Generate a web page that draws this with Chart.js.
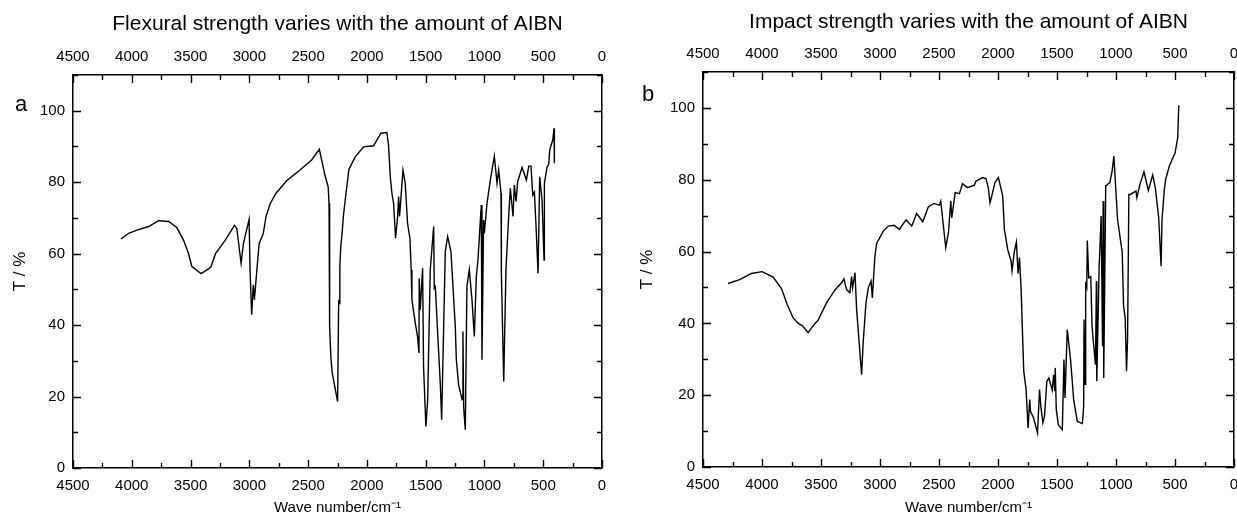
<!DOCTYPE html>
<html>
<head>
<meta charset="utf-8">
<script src="https://cdn.jsdelivr.net/npm/chart.js@4.4.1/dist/chart.umd.min.js"></script>
<style>
  html, body { margin: 0; padding: 0; background: #fff; overflow: hidden; }
  body { width: 1237px; height: 524px; position: relative; }
  canvas { position: absolute; top: 0; }
  #left { left: 0; }
  #right { left: 620px; }
</style>
</head>
<body>
<canvas id="left" width="620" height="524"></canvas>
<canvas id="right" width="640" height="524"></canvas>
<script>
"use strict";

// data
const leftWave = [4092, 4027, 3956, 3857, 3772, 3687, 3617, 3560, 3518, 3489, 3410, 3328, 3286, 3206, 3127, 3107, 3070, 3050, 3002, 2994,
  2980, 2966, 2957, 2917, 2881, 2858, 2824, 2773, 2683, 2569, 2470, 2405, 2357, 2329, 2322, 2319, 2315, 2312, 2305, 2295,
  2249, 2240, 2235, 2230, 2222, 2210, 2200, 2181, 2153, 2099, 2028, 1943, 1881, 1830, 1816, 1801, 1787, 1773, 1756, 1739,
  1730, 1722, 1693, 1674, 1654, 1634, 1623, 1617, 1588, 1569, 1557, 1555, 1546, 1526, 1518, 1498, 1483, 1461, 1432, 1427,
  1418, 1376, 1364, 1342, 1333, 1313, 1285, 1248, 1239, 1220, 1200, 1189, 1183, 1177, 1163, 1149, 1129, 1106, 1086, 1069,
  1055, 1027, 1021, 1007, 1001, 978, 950, 916, 893, 879, 859, 856, 836, 817, 800, 780, 757, 746, 731, 717,
  680, 643, 623, 604, 589, 575, 561, 544, 530, 510, 493, 490, 467, 453, 445, 419, 408, 405];
const leftT = [64.1, 65.7, 66.6, 67.6, 69.2, 69.0, 67.3, 63.8, 60.1, 56.4, 54.4, 56.2, 60.1, 63.7, 67.9, 67.1, 57.3, 62.9, 69.6, 55.5,
  42.9, 51.3, 47.1, 62.7, 65.7, 70.4, 73.9, 76.9, 80.4, 83.4, 86.2, 89.2, 82.0, 78.6, 74.1, 56.9, 39.6, 35.4, 30.3, 26.6,
  18.6, 47.1, 46.0, 56.4, 62.0, 66.0, 70.5, 76.0, 83.6, 87.1, 89.9, 90.2, 93.7, 93.9, 90.4, 81.5, 76.9, 74.1, 64.3, 70.4,
  76.0, 70.4, 83.4, 79.7, 68.5, 64.3, 55.5, 47.1, 40.5, 36.8, 32.2, 53.1, 44.3, 55.9, 28.4, 11.6, 19.1, 55.5, 67.6, 50.3,
  50.8, 23.8, 13.5, 47.1, 60.6, 64.8, 60.6, 39.6, 30.3, 23.3, 20.5, 19.1, 38.2, 17.2, 10.7, 50.8, 55.5, 47.1, 36.8, 53.6,
  58.2, 73.6, 30.3, 69.4, 65.7, 74.1, 80.6, 87.3, 79.7, 83.4, 76.9, 54.5, 24.2, 55.5, 66.6, 78.3, 70.4, 79.2, 74.6, 80.2,
  84.1, 80.6, 84.5, 84.5, 76.4, 77.2, 67.6, 54.5, 81.5, 75.0, 58.2, 79.7, 84.3, 85.0, 89.0, 91.8, 95.1, 85.3];

const rightWave = [4288, 4189, 4090, 4000, 3906, 3835, 3787, 3736, 3693, 3659, 3609, 3558, 3524, 3453, 3382, 3326, 3306, 3283, 3255, 3241,
  3232, 3212, 3198, 3156, 3142, 3119, 3099, 3076, 3065, 3043, 3028, 2972, 2929, 2881, 2836, 2779, 2731, 2689, 2638, 2590,
  2542, 2496, 2485, 2443, 2420, 2400, 2392, 2363, 2327, 2301, 2258, 2201, 2187, 2130, 2102, 2082, 2068, 2054, 2026, 1997,
  1960, 1946, 1918, 1889, 1881, 1861, 1844, 1830, 1818, 1804, 1782, 1762, 1745, 1731, 1725, 1699, 1665, 1648, 1637, 1620,
  1606, 1586, 1569, 1540, 1529, 1518, 1515, 1506, 1489, 1455, 1441, 1432, 1413, 1384, 1359, 1328, 1285, 1274, 1271, 1262,
  1257, 1248, 1243, 1231, 1214, 1203, 1191, 1174, 1166, 1163, 1143, 1126, 1114, 1109, 1104, 1087, 1052, 1033, 1018, 987,
  947, 936, 922, 911, 902, 891, 877, 831, 823, 797, 763, 726, 689, 667, 638, 618, 610, 590, 579, 548,
  499, 477, 468];
const rightT = [51.1, 52.2, 53.9, 54.4, 52.9, 49.7, 45.3, 41.5, 40.0, 39.4, 37.4, 39.7, 40.9, 45.7, 49.3, 51.3, 52.4, 49.4, 48.5, 53.0,
  49.9, 54.1, 43.9, 25.7, 35.0, 45.7, 49.9, 51.8, 47.1, 58.7, 62.3, 65.7, 67.1, 67.3, 66.2, 68.8, 67.1, 70.6, 68.3, 72.5,
  73.4, 72.9, 74.0, 61.1, 65.2, 74.1, 69.4, 76.4, 76.1, 78.9, 77.8, 78.5, 79.6, 80.6, 80.3, 77.8, 73.6, 75.3, 79.2, 80.6,
  75.5, 66.2, 60.6, 57.3, 54.6, 60.1, 62.6, 53.9, 58.3, 49.4, 26.7, 21.6, 10.9, 18.8, 15.5, 13.7, 9.5, 21.6, 16.9, 12.3,
  14.1, 23.9, 24.8, 21.4, 25.7, 21.1, 27.6, 16.0, 11.8, 10.4, 29.9, 19.2, 38.3, 29.5, 18.8, 12.7, 12.1, 16.9, 41.1, 23.0,
  50.8, 49.9, 63.1, 52.7, 53.0, 39.2, 34.6, 28.5, 51.8, 23.9, 55.5, 69.9, 33.6, 74.1, 24.8, 78.3, 79.2, 82.4, 86.6, 69.0,
  59.7, 44.8, 41.5, 26.7, 35.5, 75.9, 75.9, 76.9, 75.0, 78.7, 82.2, 77.0, 81.3, 77.8, 69.4, 55.9, 69.0, 77.3, 80.1, 83.8,
  87.5, 91.7, 100.7];

const waveMin = 0, waveMax = 4500, waveStep = 500, waveMinor = 250;
const tMin = 0, tMax = 110, tStep = 20, tMinor = 10, tLabelMax = 100;

Chart.defaults.font.family = "'Liberation Sans', Arial, sans-serif";
Chart.defaults.color = "#000";

// ticks pointing into the plot + panel letter
const frameTicks = {
  id: "frameTicks",
  afterDraw(chart, args, opts) {
    const { ctx, chartArea: a } = chart;
    const sx = chart.scales.x, sy = chart.scales.y;
    ctx.save();
    ctx.strokeStyle = "#000";
    ctx.lineWidth = 1.4;
    ctx.beginPath();
    for (let v = waveMin; v <= waveMax; v += waveMinor) {
      const px = Math.round(sx.getPixelForValue(v)) + 0.5;
      const len = v % waveStep === 0 ? 8 : 5;
      ctx.moveTo(px, a.bottom); ctx.lineTo(px, a.bottom - len);
      ctx.moveTo(px, a.top); ctx.lineTo(px, a.top + len);
    }
    for (let v = tMin; v <= tMax; v += tMinor) {
      const py = Math.round(sy.getPixelForValue(v)) + 0.5;
      const len = v % tStep === 0 ? 8 : 5;
      ctx.moveTo(a.left, py); ctx.lineTo(a.left + len, py);
      ctx.moveTo(a.right, py); ctx.lineTo(a.right - len, py);
    }
    ctx.stroke();
    ctx.font = "22px 'Liberation Sans', Arial, sans-serif";
    ctx.fillStyle = "#000";
    ctx.textBaseline = "alphabetic";
    ctx.fillText(opts.letter, opts.lx, opts.ly);
    ctx.restore();
  }
};

function fixSize(prop, size) {
  return (scale) => { scale[prop] = size; };
}

function makeChart(id, wave, t, o) {
  const xCommon = {
    type: "linear",
    min: waveMin,
    max: waveMax,
    reverse: true,
    grid: { display: false, drawTicks: false },
    border: { display: true, color: "#000", width: 1.5 },
    ticks: {
      stepSize: waveStep,
      padding: 9,
      font: { size: 15 },
      maxRotation: 0,
      autoSkip: false,
      callback: (v) => String(v)
    }
  };
  const yCommon = {
    type: "linear",
    min: tMin,
    max: tMax,
    grid: { display: false, drawTicks: false },
    border: { display: true, color: "#000", width: 1.5 },
    ticks: {
      stepSize: tMinor,
      padding: 8,
      font: { size: 15 },
      autoSkip: false,
      callback: (v) => (v % tStep === 0 && v <= tLabelMax ? String(v) : "")
    }
  };
  return new Chart(document.getElementById(id), {
    type: "line",
    data: {
      datasets: [{
        data: wave.map((w, i) => ({ x: w, y: t[i] })),
        borderColor: "#000",
        borderWidth: 1.4,
        pointRadius: 0,
        tension: 0,
        fill: false
      }]
    },
    options: {
      responsive: false,
      animation: false,
      layout: { padding: 0 },
      plugins: {
        legend: { display: false },
        tooltip: { enabled: false },
        frameTicks: { letter: o.letter, lx: o.lx, ly: o.ly }
      },
      scales: {
        x: Object.assign({}, xCommon, {
          position: "bottom",
          afterFit: fixSize("height", o.bottom),
          title: { display: true, text: "Wave number/cm\u207B\u00B9", font: { size: 15 }, padding: { top: 0, bottom: o.xTitlePad } }
        }),
        x2: Object.assign({}, xCommon, {
          position: "top",
          afterFit: fixSize("height", o.top),
          title: { display: true, text: o.title, font: { size: 21 }, padding: { top: o.titlePad, bottom: 0 } }
        }),
        y: Object.assign({}, yCommon, {
          position: "left",
          afterFit: fixSize("width", o.left),
          title: { display: true, text: "T / %", font: { size: 17 }, padding: { top: o.yTitlePad, bottom: 0 } }
        }),
        y2: Object.assign({}, yCommon, {
          position: "right",
          afterFit: fixSize("width", o.right),
          ticks: { display: false }
        })
      }
    },
    plugins: [frameTicks]
  });
}

makeChart("left", leftWave, leftT, {
  title: "Flexural strength varies with the amount of AIBN",
  letter: "a", lx: 15, ly: 111,
  top: 75, bottom: 56, left: 73, right: 18,
  titlePad: 12, xTitlePad: 7, yTitlePad: 10
});

makeChart("right", rightWave, rightT, {
  title: "Impact strength varies with the amount of AIBN",
  letter: "b", lx: 22, ly: 101,
  top: 72, bottom: 57, left: 83, right: 26,
  titlePad: 10, xTitlePad: 7, yTitlePad: 17
});
</script>
</body>
</html>
